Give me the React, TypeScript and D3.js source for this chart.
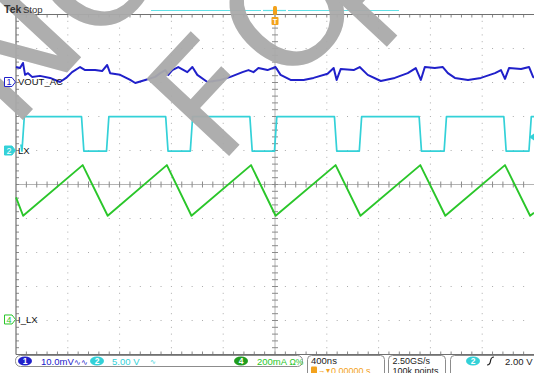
import React from 'react';
import * as d3 from 'd3';

const W = 534;
const H = 373;

// Horizontal: 400 ns/div, 10 divisions, trigger (t = 0) at centre
const timeDomain: [number, number] = [-2000, 2000];

// CH1  VOUT_AC  (mV, 10 mV/div, AC coupled)
const ch1Times = [
  -2000, -1969, -1946, -1930, -1907, -1876, -1815, -1737, -1660, -1613, -1567, -1505, -1466, -1389,
  -1335, -1296, -1273, -1196, -1118, -1079, -1002, -925, -886, -847, -824, -793, -747, -677, -638,
  -600, -522, -422, -344, -251, -205, -166, -128, -58, 4, 43, 120, 221, 298, 406, 453, 476, 507, 607,
  654, 716, 817, 925, 1025, 1087, 1126, 1157, 1234, 1296, 1335, 1389, 1490, 1590, 1699, 1745, 1776,
  1807, 1900, 1962, 1993, 2000,
];
const ch1Values = [
  4.4, 4.1, 5.6, 2.1, 2.6, 1.5, 1.8, 1.2, 0.0, 1.2, 2.9, 4.4, 3.5, 3.5,
  3.2, 5.0, 2.6, 2.1, 0.6, -0.3, 0.6, 1.5, 2.6, 3.5, 2.1, 3.5, 4.4, 2.9, 4.4,
  2.1, 0.0, 0.6, 1.5, 2.9, 3.5, 2.9, 4.1, 3.5, 4.4, 2.1, 0.6, 0.6, 1.2, 2.4, 4.1, 0.6, 3.8, 3.5,
  4.4, 2.1, 0.3, 1.2, 2.6, 4.1, 0.6, 4.4, 4.1, 4.4, 2.6, 1.2, 0.6, 1.2, 2.6, 3.5, 0.9,
  4.1, 3.8, 4.4, 1.5, 1.2,
];

// CH2  LX  (V, 5 V/div)
const lxRiseTimes = [-1945, -1292, -645, 5, 660, 1315, 1970];
const lxFallTimes = [-1485, -835, -185, 468, 1122, 1776];
const lxHighV = 4.97;
const lxLowV = -0.1;
const lxStartTime = -1962;
const lxStartV = 0.9;

// CH4  I_LX  (mA, 200 mA/div)
const iTimes = [-2000, -1945, -1485, -1292, -835, -645, -185, 5, 468, 660, 1122, 1315, 1776, 1970, 2000];
const iValues = [718, 610, 908, 610, 908, 610, 908, 610, 908, 610, 908, 610, 908, 610, 628];

// channel labels and settings
const channelLabels = ['VOUT_AC', 'LX', 'I_LX'];
const channelNumbers = ['1', '2', '4'];
const channelScales = [10, 5, 200]; // units per division
const channelOffsets = [3.015, 1.0, -3.97]; // divisions from centre

const statusTexts = {
  ch1: '10.0mV',
  ch2: '5.00 V',
  ch4: '200mA',
  timebase: '400ns',
  delay: '0.00000 s',
  rate: '2.50GS/s',
  points: '100k points',
  trigLevel: '2.00 V',
};

const watermarkLetters = ['N', 'O', 'F', 'O', 'R'];

const COL_BLUE = '#2020ca';
const COL_CYAN = '#33d1d8';
const COL_GREEN = '#2ac62a';
const COL_ORANGE = '#f3a21c';
const UI_FONT = "'Liberation Sans', Arial, sans-serif";

const X0 = 16;
const X1 = 534;
const Y0 = 14.5;
const Y1 = 354.5;

export default function App() {
  const x = d3.scaleLinear().domain(timeDomain).range([X0, X1]);
  const yDiv = d3.scaleLinear().domain([-5, 5]).range([Y1, Y0]);
  const chY = (ch: number, v: number) => yDiv(v / channelScales[ch] + channelOffsets[ch]);

  const mkLine = (ch: number) =>
    d3
      .line<[number, number]>()
      .x((d) => x(Math.max(timeDomain[0], Math.min(timeDomain[1], d[0]))))
      .y((d) => chY(ch, d[1]));

  const ch1Pts: [number, number][] = ch1Times.map((t, i) => [t, ch1Values[i]]);

  // LX square wave from its edge times
  const edges = [
    ...lxRiseTimes.map((t) => ({ t, rise: true })),
    ...lxFallTimes.map((t) => ({ t, rise: false })),
  ].sort((a, b) => a.t - b.t);
  const lxPts: [number, number][] = [[lxStartTime, lxStartV]];
  edges.forEach((e) => {
    const a: [number, number] = [e.t - 9, e.rise ? lxLowV : lxHighV];
    const b: [number, number] = [e.t + 9, e.rise ? lxHighV : lxLowV];
    if (a[0] > lxStartTime) lxPts.push(a);
    lxPts.push(b);
  });
  lxPts.push([timeDomain[1], lxHighV]);

  const iPts: [number, number][] = iTimes.map((t, i) => [t, iValues[i]]);

  // graticule
  const divX = (X1 - X0) / 10;
  const divY = (Y1 - Y0) / 10;
  const xc = X0 + 5 * divX;
  const yc = Y0 + 5 * divY;
  const dots: JSX.Element[] = [];
  for (let i = 1; i < 10; i++) {
    if (i === 5) continue;
    const gx = X0 + i * divX;
    for (let j = 1; j < 50; j++) {
      dots.push(<rect key={`v${i}-${j}`} x={gx - 0.5} y={Y0 + (j * divY) / 5 - 0.5} width={1} height={1} fill="#ababab" />);
    }
  }
  for (let j = 1; j < 10; j++) {
    if (j === 5) continue;
    const gy = Y0 + j * divY;
    for (let i = 1; i < 50; i++) {
      if (i % 5 === 0) continue;
      dots.push(<rect key={`h${j}-${i}`} x={X0 + (i * divX) / 5 - 0.5} y={gy - 0.5} width={1} height={1} fill="#ababab" />);
    }
  }
  const ticks: JSX.Element[] = [];
  for (let i = 1; i < 50; i++) {
    const tx = X0 + (i * divX) / 5;
    ticks.push(<line key={`tc${i}`} x1={tx} x2={tx} y1={yc - 3} y2={yc + 3} stroke="#8a8a8a" />);
    ticks.push(<line key={`tt${i}`} x1={tx} x2={tx} y1={Y0} y2={Y0 + 3} stroke="#8a8a8a" />);
    ticks.push(<line key={`tb${i}`} x1={tx} x2={tx} y1={Y1 - 3} y2={Y1} stroke="#8a8a8a" />);
  }
  for (let j = 1; j < 50; j++) {
    const ty = Y0 + (j * divY) / 5;
    ticks.push(<line key={`vc${j}`} x1={xc - 3} x2={xc + 3} y1={ty} y2={ty} stroke="#8a8a8a" />);
    ticks.push(<line key={`vl${j}`} x1={X0} x2={X0 + 3} y1={ty} y2={ty} stroke="#8a8a8a" />);
  }

  const marker = (cy: number, fill: string, stroke: string, txt: string, txtCol: string) => (
    <g>
      <path d={`M4.5,${cy - 4.5} H12 L15.5,${cy} L12,${cy + 4.5} H4.5 Z`} fill={fill} stroke={stroke} strokeWidth={1} />
      <text x={9} y={cy + 3.2} fontSize={9} fontFamily={UI_FONT} fill={txtCol} textAnchor="middle">
        {txt}
      </text>
    </g>
  );

  const ch1G = chY(0, 0);
  const ch2G = chY(1, 0);
  const ch4G = chY(2, 0);

  // watermark letter placement (layout only)
  const wmPos = [
    [13, 52],
    [97, -29],
    [210, 98],
    [289, 11],
    [374, -18],
  ];

  const pill = (cx: number, cy: number, fill: string, txt: string) => (
    <g>
      <ellipse cx={cx} cy={cy} rx={7} ry={4.6} fill={fill} />
      <text x={cx} y={cy + 3} fontSize={8.5} fontWeight="bold" fontFamily={UI_FONT} fill="#fff" textAnchor="middle">
        {txt}
      </text>
    </g>
  );

  return (
    <svg width={W} height={H} style={{ position: 'absolute', left: 0, top: 0, background: '#fff' }}>
      <rect width={W} height={H} fill="#fff" />
      <line x1={151} x2={261} y1={10.5} y2={10.5} stroke="#62e0e6" strokeWidth={1.2} />
      <line x1={263} x2={286} y1={10.5} y2={10.5} stroke="#62e0e6" strokeWidth={1.2} />
      <line x1={288} x2={399} y1={10.5} y2={10.5} stroke="#62e0e6" strokeWidth={1.2} />

      {/* graticule */}
      {dots}
      <line x1={xc} x2={xc} y1={Y0} y2={Y1} stroke="#b4b4b4" />
      <line x1={X0} x2={X1} y1={yc} y2={yc} stroke="#b4b4b4" />
      {ticks}
      <line x1={X0} x2={X1} y1={Y0} y2={Y0} stroke="#707070" strokeWidth={1.2} />
      <line x1={X0} x2={X1} y1={Y1} y2={Y1} stroke="#707070" strokeWidth={1.2} />
      <line x1={X0} x2={X0} y1={Y0} y2={Y1} stroke="#707070" strokeWidth={1.2} />

      {/* trigger level */}
      <path d={`M529,${chY(1, 2)} L534,${chY(1, 2) - 3.5} L534,${chY(1, 2) + 3.5} Z`} fill={COL_CYAN} />

      {/* traces */}
      <path d={mkLine(2)(iPts) || ''} fill="none" stroke={COL_GREEN} strokeWidth={1.9} strokeLinejoin="round" />
      <path d={mkLine(1)(lxPts) || ''} fill="none" stroke={COL_CYAN} strokeWidth={1.7} strokeLinejoin="round" />
      <path d={mkLine(0)(ch1Pts) || ''} fill="none" stroke={COL_BLUE} strokeWidth={2} strokeLinejoin="round" />

      {/* watermark */}
      <g opacity={0.95}>
        {watermarkLetters.map((ch, i) => (
          <text
            key={i}
            transform={`translate(${wmPos[i][0]},${wmPos[i][1]}) rotate(-47)`}
            fontSize={155}
            fontFamily="'DejaVu Sans', sans-serif"
            fill="#aaaaaa"
            textAnchor="middle"
            dominantBaseline="central"
          >
            {ch}
          </text>
        ))}
      </g>

      {/* header */}
      <text x={4} y={13} fontSize={10.5} fontFamily={UI_FONT} fill="#333" fontWeight="bold">
        Tek
      </text>
      <text x={23} y={13} fontSize={9.5} fontFamily={UI_FONT} fill="#333">
        Stop
      </text>

      {/* trigger position */}
      <rect x={xc - 2} y={6} width={4} height={9} rx={1.5} fill={COL_ORANGE} />
      <rect x={xc - 3.5} y={17} width={7} height={8} rx={1} fill={COL_ORANGE} />
      <text x={xc} y={24} fontSize={7.5} fontWeight="bold" fontFamily={UI_FONT} fill="#fff" textAnchor="middle">
        T
      </text>

      {/* channel markers */}
      {marker(ch1G, '#fff', COL_BLUE, channelNumbers[0], COL_BLUE)}
      <text x={18} y={ch1G + 3.5} fontSize={9.5} fontFamily={UI_FONT} fill="#111">
        {channelLabels[0]}
      </text>
      {marker(ch2G, COL_CYAN, COL_CYAN, channelNumbers[1], '#fff')}
      <text x={18} y={ch2G + 3.5} fontSize={9.5} fontFamily={UI_FONT} fill="#111">
        {channelLabels[1]}
      </text>
      {marker(ch4G, '#fff', COL_GREEN, channelNumbers[2], COL_GREEN)}
      <text x={18} y={ch4G + 3.5} fontSize={9.5} fontFamily={UI_FONT} fill="#111">
        {channelLabels[2]}
      </text>

      {/* status bar */}
      <rect x={15.5} y={355.5} width={287} height={11} rx={5} fill="#fff" stroke="#8c8c8c" />
      {pill(25, 361, COL_BLUE, '1')}
      <text x={41} y={364.5} fontSize={9.5} fontFamily={UI_FONT} fill={COL_BLUE}>
        {statusTexts.ch1}
        <tspan fontSize={7.5}>{'\u223F\u223F'}</tspan>
      </text>
      {pill(97, 361, COL_CYAN, '2')}
      <text x={112} y={364.5} fontSize={9.5} fontFamily={UI_FONT} fill={COL_CYAN}>
        {statusTexts.ch2}
      </text>
      <text x={150} y={363.5} fontSize={7} fontFamily={UI_FONT} fill={COL_CYAN}>
        {'\u223F'}
      </text>
      {pill(241, 361, '#1f9d1f', '4')}
      <text x={257} y={364.5} fontSize={9.5} fontFamily={UI_FONT} fill={COL_GREEN}>
        {statusTexts.ch4}
        <tspan fontSize={8.5}>{' \u03A9%'}</tspan>
      </text>

      <rect x={307.5} y={355.5} width={77} height={24} rx={4} fill="#fff" stroke="#8c8c8c" />
      <text x={311} y={364} fontSize={9.5} fontFamily={UI_FONT} fill="#222">
        {statusTexts.timebase}
      </text>
      <rect x={311} y={366.5} width={6} height={7} rx={1} fill={COL_ORANGE} />
      <text x={318} y={373} fontSize={7.5} fontFamily={UI_FONT} fill={COL_ORANGE}>
        {'\u2192\u25BE'}
      </text>
      <text x={331} y={373.5} fontSize={9} fontFamily={UI_FONT} fill={COL_ORANGE}>
        {statusTexts.delay}
      </text>

      <rect x={388.5} y={355.5} width={57} height={24} rx={4} fill="#fff" stroke="#8c8c8c" />
      <text x={392.5} y={364} fontSize={9} fontFamily={UI_FONT} fill="#222">
        {statusTexts.rate}
      </text>
      <text x={392.5} y={373.8} fontSize={9} fontFamily={UI_FONT} fill="#222">
        {statusTexts.points}
      </text>

      <rect x={450.5} y={355.5} width={100} height={24} rx={4} fill="#fff" stroke="#8c8c8c" />
      {pill(473, 361, COL_CYAN, '2')}
      <path d="M487,365 Q490,365 490.5,361 Q491,357 494,357" fill="none" stroke="#222" strokeWidth={1.2} />
      <text x={505} y={364.5} fontSize={9.5} fontFamily={UI_FONT} fill="#222">
        {statusTexts.trigLevel}
      </text>
    </svg>
  );
}
